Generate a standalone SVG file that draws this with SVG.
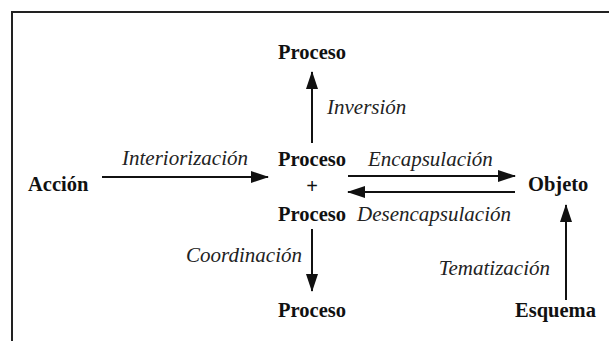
<svg xmlns="http://www.w3.org/2000/svg" width="609" height="341" viewBox="0 0 609 341">
<defs>
<marker id="ah" markerWidth="18" markerHeight="12" refX="17" refY="6" orient="auto" markerUnits="userSpaceOnUse">
<path d="M0,0 L18,6 L0,12 Z" fill="#111"/>
</marker>
<style>
.n{font-weight:bold;font-size:20.5px;fill:#111}
.l{font-style:italic;font-size:21px;fill:#222}
.c{stroke:#111;stroke-width:2;fill:none;marker-end:url(#ah)}
</style>
</defs>
<rect width="609" height="341" fill="#fff"/>
<path d="M12,341 V12 H609" fill="none" stroke="#222" stroke-width="2"/>
<g font-family="Liberation Serif, Times New Roman, DejaVu Serif, serif">
<g id="proceso-top"><text class="n" x="312" y="59" text-anchor="middle">Proceso</text></g>
<g id="accion"><text class="n" x="28" y="191">Acción</text></g>
<g id="proceso-centro">
<text class="n" x="312" y="166" text-anchor="middle">Proceso</text>
<text class="n" x="312" y="193" text-anchor="middle">+</text>
<text class="n" x="312" y="221" text-anchor="middle">Proceso</text>
</g>
<g id="objeto"><text class="n" x="528" y="191">Objeto</text></g>
<g id="proceso-bottom"><text class="n" x="312" y="317" text-anchor="middle">Proceso</text></g>
<g id="esquema"><text class="n" x="515" y="317">Esquema</text></g>
<g id="connectors">
<line class="c" x1="312" y1="143" x2="312" y2="72"/>
<line class="c" x1="102" y1="177" x2="268" y2="177"/>
<line class="c" x1="348" y1="176" x2="515" y2="176"/>
<line class="c" x1="515" y1="192" x2="348" y2="192"/>
<line class="c" x1="312" y1="229" x2="312" y2="291"/>
<line class="c" x1="566" y1="300" x2="566" y2="205"/>
<text class="l" x="327" y="114">Inversión</text>
<text class="l" x="122" y="165">Interiorización</text>
<text class="l" x="368" y="166">Encapsulación</text>
<text class="l" x="357" y="221">Desencapsulación</text>
<text class="l" x="302" y="262" text-anchor="end">Coordinación</text>
<text class="l" x="550" y="275" text-anchor="end">Tematización</text>
</g>
</g>
</svg>
